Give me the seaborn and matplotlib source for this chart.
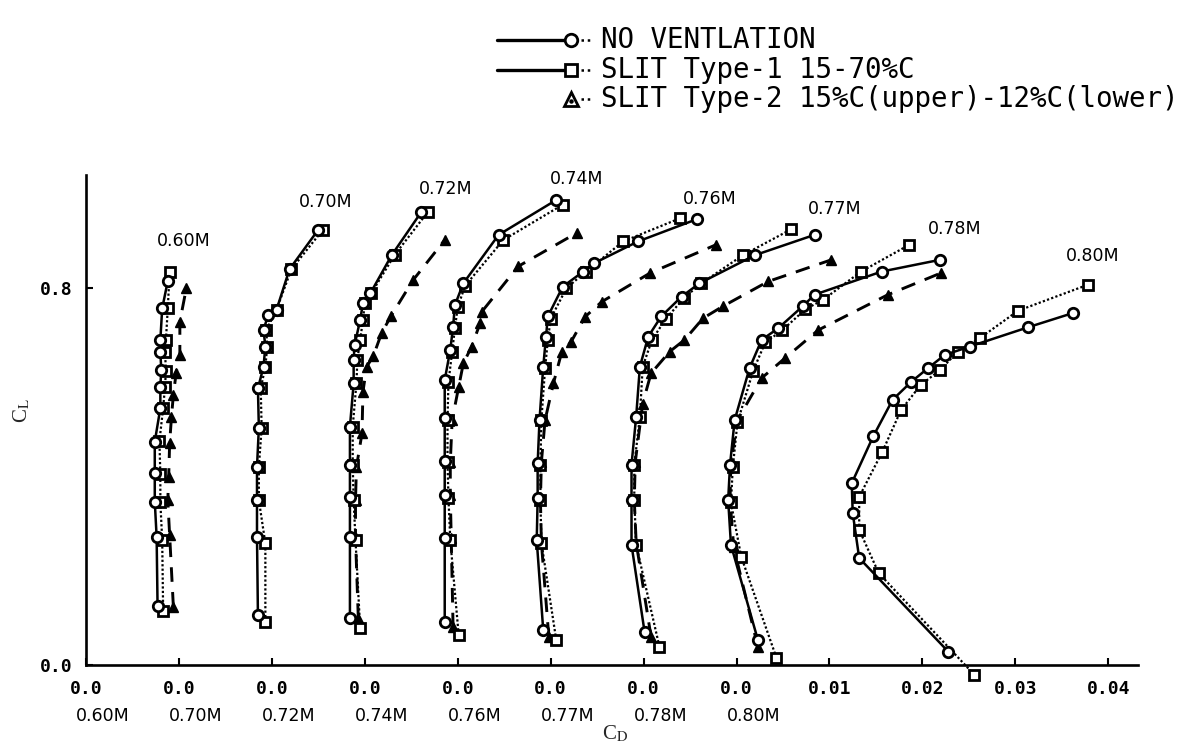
import numpy as np
import matplotlib
matplotlib.use("Agg")
import matplotlib.pyplot as plt
import seaborn as sns
from matplotlib.lines import Line2D
from matplotlib.transforms import blended_transform_factory

# ---------------- data (C_D relative to each Mach origin, C_L) ----------------
MACHS = ["0.60M", "0.70M", "0.72M", "0.74M", "0.76M", "0.77M", "0.78M", "0.80M"]
SERIES = ["NO VENTLATION", "SLIT Type-1 15-70%C", "SLIT Type-2 15%C(upper)-12%C(lower)"]
X_TICK_LABELS = ["0.0"] * 8 + ["0.01", "0.02", "0.03", "0.04"]
Y_TICKS = [0.0, 0.8]

# 0.60M
cl_nv_60 = [0.125, 0.272, 0.347, 0.407, 0.474, 0.545, 0.591, 0.626, 0.665, 0.690, 0.757, 0.815]
cd_nv_60 = [0.0077, 0.0076, 0.0074, 0.0074, 0.0074, 0.0080, 0.0080, 0.0081, 0.0080, 0.0080, 0.0082, 0.0088]
cl_s1_60 = [0.115, 0.265, 0.345, 0.405, 0.475, 0.545, 0.590, 0.625, 0.665, 0.690, 0.757, 0.835]
cd_s1_60 = [0.0083, 0.0082, 0.0080, 0.0080, 0.0079, 0.0083, 0.0085, 0.0086, 0.0085, 0.0086, 0.0088, 0.0090]
cl_s2_60 = [0.124, 0.276, 0.350, 0.400, 0.471, 0.527, 0.573, 0.620, 0.658, 0.729, 0.800]
cd_s2_60 = [0.0094, 0.0090, 0.0088, 0.0089, 0.0090, 0.0092, 0.0094, 0.0097, 0.0101, 0.0101, 0.0108]

# 0.70M
cl_nv_70 = [0.106, 0.272, 0.350, 0.421, 0.503, 0.587, 0.633, 0.676, 0.711, 0.743, 0.754, 0.840, 0.924]
cd_nv_70 = [0.0085, 0.0084, 0.0084, 0.0084, 0.0086, 0.0085, 0.0091, 0.0093, 0.0091, 0.0096, 0.0105, 0.0119, 0.0150]
cl_s1_70 = [0.092, 0.258, 0.350, 0.421, 0.503, 0.587, 0.633, 0.676, 0.711, 0.754, 0.840, 0.924]
cd_s1_70 = [0.0093, 0.0093, 0.0086, 0.0086, 0.0089, 0.0088, 0.0093, 0.0095, 0.0094, 0.0105, 0.0121, 0.0155]
cl_s2_70 = []
cd_s2_70 = []

# 0.72M
cl_nv_72 = [0.099, 0.272, 0.357, 0.425, 0.506, 0.598, 0.648, 0.679, 0.732, 0.768, 0.789, 0.870, 0.962]
cd_nv_72 = [0.0084, 0.0084, 0.0084, 0.0084, 0.0084, 0.0088, 0.0088, 0.0089, 0.0095, 0.0098, 0.0106, 0.0129, 0.0161]
cl_s1_72 = [0.078, 0.265, 0.350, 0.425, 0.506, 0.598, 0.648, 0.690, 0.732, 0.768, 0.789, 0.870, 0.962]
cd_s1_72 = [0.0095, 0.0090, 0.0088, 0.0087, 0.0087, 0.0091, 0.0092, 0.0095, 0.0098, 0.0100, 0.0107, 0.0132, 0.0168]
cl_s2_72 = [0.100, 0.270, 0.350, 0.420, 0.492, 0.580, 0.633, 0.655, 0.704, 0.740, 0.817, 0.902]
cd_s2_72 = [0.0093, 0.0090, 0.0090, 0.0091, 0.0097, 0.0098, 0.0102, 0.0109, 0.0118, 0.0128, 0.0152, 0.0186]

# 0.74M
cl_nv_74 = [0.092, 0.269, 0.361, 0.432, 0.524, 0.605, 0.669, 0.718, 0.764, 0.810, 0.913, 0.987]
cd_nv_74 = [0.0086, 0.0086, 0.0086, 0.0086, 0.0086, 0.0086, 0.0092, 0.0095, 0.0097, 0.0106, 0.0144, 0.0206]
cl_s1_74 = [0.064, 0.265, 0.355, 0.430, 0.520, 0.600, 0.665, 0.715, 0.760, 0.805, 0.902, 0.977]
cd_s1_74 = [0.0101, 0.0092, 0.0090, 0.0089, 0.0089, 0.0090, 0.0094, 0.0097, 0.0100, 0.0108, 0.0149, 0.0213]
cl_s2_74 = [0.080, 0.270, 0.360, 0.430, 0.520, 0.590, 0.640, 0.676, 0.725, 0.750, 0.846, 0.917]
cd_s2_74 = [0.0095, 0.0093, 0.0092, 0.0092, 0.0094, 0.0101, 0.0106, 0.0115, 0.0124, 0.0126, 0.0165, 0.0228]

# 0.76M
cl_nv_76 = [0.074, 0.265, 0.354, 0.428, 0.520, 0.633, 0.697, 0.740, 0.803, 0.835, 0.853, 0.899, 0.946]
cd_nv_76 = [0.0092, 0.0085, 0.0086, 0.0086, 0.0088, 0.0092, 0.0095, 0.0097, 0.0113, 0.0135, 0.0147, 0.0194, 0.0257]
cl_s1_76 = [0.053, 0.260, 0.350, 0.425, 0.520, 0.630, 0.690, 0.735, 0.800, 0.835, 0.899, 0.948]
cd_s1_76 = [0.0106, 0.0090, 0.0089, 0.0089, 0.0090, 0.0094, 0.0097, 0.0100, 0.0117, 0.0138, 0.0178, 0.0239]
cl_s2_76 = [0.060, 0.260, 0.350, 0.430, 0.520, 0.598, 0.665, 0.686, 0.739, 0.771, 0.832, 0.892]
cd_s2_76 = [0.0098, 0.0090, 0.0089, 0.0090, 0.0094, 0.0103, 0.0112, 0.0122, 0.0137, 0.0155, 0.0207, 0.0278]

# 0.77M
cl_nv_77 = [0.071, 0.255, 0.350, 0.425, 0.527, 0.633, 0.697, 0.740, 0.782, 0.810, 0.870, 0.913]
cd_nv_77 = [0.0101, 0.0087, 0.0087, 0.0087, 0.0092, 0.0096, 0.0105, 0.0119, 0.0141, 0.0160, 0.0220, 0.0284]
cl_s1_77 = [0.039, 0.255, 0.350, 0.425, 0.527, 0.633, 0.690, 0.735, 0.780, 0.810, 0.870, 0.925]
cd_s1_77 = [0.0117, 0.0092, 0.0090, 0.0090, 0.0096, 0.0099, 0.0109, 0.0124, 0.0144, 0.0162, 0.0207, 0.0259]
cl_s2_77 = [0.060, 0.260, 0.350, 0.430, 0.555, 0.619, 0.665, 0.690, 0.736, 0.761, 0.814, 0.860]
cd_s2_77 = [0.0108, 0.0092, 0.0090, 0.0091, 0.0099, 0.0108, 0.0128, 0.0144, 0.0164, 0.0185, 0.0234, 0.0302]

# 0.78M
cl_nv_78 = [0.053, 0.255, 0.350, 0.425, 0.520, 0.630, 0.690, 0.715, 0.761, 0.786, 0.835, 0.860]
cd_nv_78 = [0.0123, 0.0094, 0.0091, 0.0093, 0.0098, 0.0114, 0.0127, 0.0145, 0.0171, 0.0184, 0.0256, 0.0319]
cl_s1_78 = [0.015, 0.230, 0.345, 0.420, 0.515, 0.625, 0.685, 0.710, 0.755, 0.775, 0.835, 0.892]
cd_s1_78 = [0.0143, 0.0105, 0.0094, 0.0096, 0.0101, 0.0118, 0.0131, 0.0149, 0.0174, 0.0193, 0.0234, 0.0286]
cl_s2_78 = [0.038, 0.250, 0.350, 0.430, 0.520, 0.609, 0.651, 0.711, 0.786, 0.832]
cd_s2_78 = [0.0123, 0.0097, 0.0093, 0.0094, 0.0101, 0.0127, 0.0152, 0.0188, 0.0263, 0.0320]

# 0.80M
cl_nv_80 = [0.028, 0.227, 0.323, 0.386, 0.485, 0.563, 0.601, 0.630, 0.658, 0.676, 0.717, 0.747]
cd_nv_80 = [0.0228, 0.0132, 0.0125, 0.0124, 0.0147, 0.0168, 0.0188, 0.0206, 0.0224, 0.0251, 0.0314, 0.0362]
cl_s1_80 = [-0.021, 0.195, 0.287, 0.357, 0.453, 0.541, 0.594, 0.626, 0.665, 0.694, 0.752, 0.807]
cd_s1_80 = [0.0256, 0.0153, 0.0132, 0.0132, 0.0157, 0.0177, 0.0198, 0.0219, 0.0238, 0.0262, 0.0303, 0.0378]
cl_s2_80 = []
cd_s2_80 = []

NV = [(cd_nv_60, cl_nv_60), (cd_nv_70, cl_nv_70), (cd_nv_72, cl_nv_72), (cd_nv_74, cl_nv_74),
      (cd_nv_76, cl_nv_76), (cd_nv_77, cl_nv_77), (cd_nv_78, cl_nv_78), (cd_nv_80, cl_nv_80)]
S1 = [(cd_s1_60, cl_s1_60), (cd_s1_70, cl_s1_70), (cd_s1_72, cl_s1_72), (cd_s1_74, cl_s1_74),
      (cd_s1_76, cl_s1_76), (cd_s1_77, cl_s1_77), (cd_s1_78, cl_s1_78), (cd_s1_80, cl_s1_80)]
S2 = [(cd_s2_60, cl_s2_60), (cd_s2_70, cl_s2_70), (cd_s2_72, cl_s2_72), (cd_s2_74, cl_s2_74),
      (cd_s2_76, cl_s2_76), (cd_s2_77, cl_s2_77), (cd_s2_78, cl_s2_78), (cd_s2_80, cl_s2_80)]

# ---------------- styling ----------------
sns.set_theme(style="ticks")
plt.rcParams['font.family'] = ['DejaVu Sans']
plt.rcParams['mathtext.fontset'] = 'stix'

W, H = 1188, 744
fig = plt.figure(figsize=(W / 100, H / 100), dpi=100)
fig.patch.set_facecolor("white")
ax = fig.add_axes([86 / W, 1 - 665 / H, (1138 - 86) / W, (665 - 175) / H])
ax.set_facecolor("white")

ORIGIN_STEP = 0.01

nv_style = dict(color='black', linestyle='-', linewidth=1.8, marker='o', markersize=7.5,
                markerfacecolor='white', markeredgecolor='black', markeredgewidth=2.0)
s1_style = dict(color='black', linestyle=(0, (1, 1)), linewidth=1.6, marker='s', markersize=7,
                markerfacecolor='white', markeredgecolor='black', markeredgewidth=2.0)
s2_style = dict(color='black', linestyle=(0, (5, 3.5)), linewidth=2.1, marker='^', markersize=6.5,
                markerfacecolor='black', markeredgecolor='black', markeredgewidth=1.0)

for series, style, z in [(S2, s2_style, 2), (S1, s1_style, 3), (NV, nv_style, 4)]:
    for i, (cd, cl) in enumerate(series):
        if len(cd) == 0:
            continue
        sns.lineplot(x=np.asarray(cd) + i * ORIGIN_STEP, y=cl, ax=ax, sort=False,
                     estimator=None, legend=False, clip_on=False, zorder=z, **style)

ax.set_xlim(0, 0.1132)
ax.set_ylim(0, 1.04)
for s in ["top", "right"]:
    ax.spines[s].set_visible(False)
for s in ["left", "bottom"]:
    ax.spines[s].set_linewidth(1.9)
    ax.spines[s].set_color("black")

ax.set_xticks([k * ORIGIN_STEP for k in range(len(X_TICK_LABELS))])
ax.set_xticklabels(X_TICK_LABELS, family="DejaVu Sans Mono", fontweight="bold", fontsize=13)
ax.set_yticks(Y_TICKS)
ax.set_yticklabels([f"{v:.1f}" for v in Y_TICKS], family="DejaVu Sans Mono", fontweight="bold", fontsize=13)
ax.tick_params(axis="both", direction="in", length=5, width=1.5, colors="black")
ax.tick_params(axis="x", pad=11)
ax.tick_params(axis="y", pad=10)

# Mach labels under the origin ticks
bt = blended_transform_factory(ax.transData, fig.transFigure)
for i, m in enumerate(MACHS):
    ax.text(i * ORIGIN_STEP + 0.0018, 1 - 716 / H, m, transform=bt, ha="center", va="center",
            fontsize=12.5, color="black")

# Mach labels above curves (figure pixel positions)
CURVE_LABEL_POS = [(184, 241), (326, 202), (446, 189), (577, 179), (710, 199), (835, 209), (955, 229), (1093, 256)]
for m, (px, py) in zip(MACHS, CURVE_LABEL_POS):
    fig.text(px / W, 1 - py / H, m, ha="center", va="center", fontsize=12.5, color="black")

# axis labels
fig.text(615 / W, 1 - 734 / H, r"C$_\mathrm{D}$", ha="center", va="center", fontsize=15,
         family="Liberation Serif")
fig.text(22 / W, 1 - 410 / H, r"C$_\mathrm{L}$", ha="center", va="center", fontsize=15,
         family="Liberation Serif", rotation=90)

# legend (drawn manually to mimic the original key)
legend_rows = [(40, nv_style, True), (70, s1_style, True), (99, s2_style, False)]
for (py, style, has_line), label in zip(legend_rows, SERIES):
    y = 1 - py / H
    if has_line:
        fig.add_artist(Line2D([497 / W, 565 / W], [y, y], color="black", linewidth=2.4,
                              transform=fig.transFigure))
    mk = {k: v for k, v in style.items() if k.startswith("marker")}
    if style["marker"] == "^":
        mk.update(markerfacecolor="white", markeredgewidth=2.0, markersize=10)
    else:
        mk.update(markersize=9)
    fig.add_artist(Line2D([571 / W], [y], linestyle="none", transform=fig.transFigure, **mk))
    if style["marker"] == "^":
        fig.add_artist(Line2D([571 / W], [y - 2 / H], linestyle="none", marker="o", markersize=2.2,
                              color="black", transform=fig.transFigure))
    fig.add_artist(Line2D([581 / W, 593 / W], [y, y], color="black", linewidth=1.8,
                          linestyle=(0, (1, 1.5)), transform=fig.transFigure))
    fig.text(601 / W, y, label, ha="left", va="center", fontsize=19.8, family="DejaVu Sans Mono",
             color="black")

fig.savefig("out.png", dpi=100, facecolor="white")
